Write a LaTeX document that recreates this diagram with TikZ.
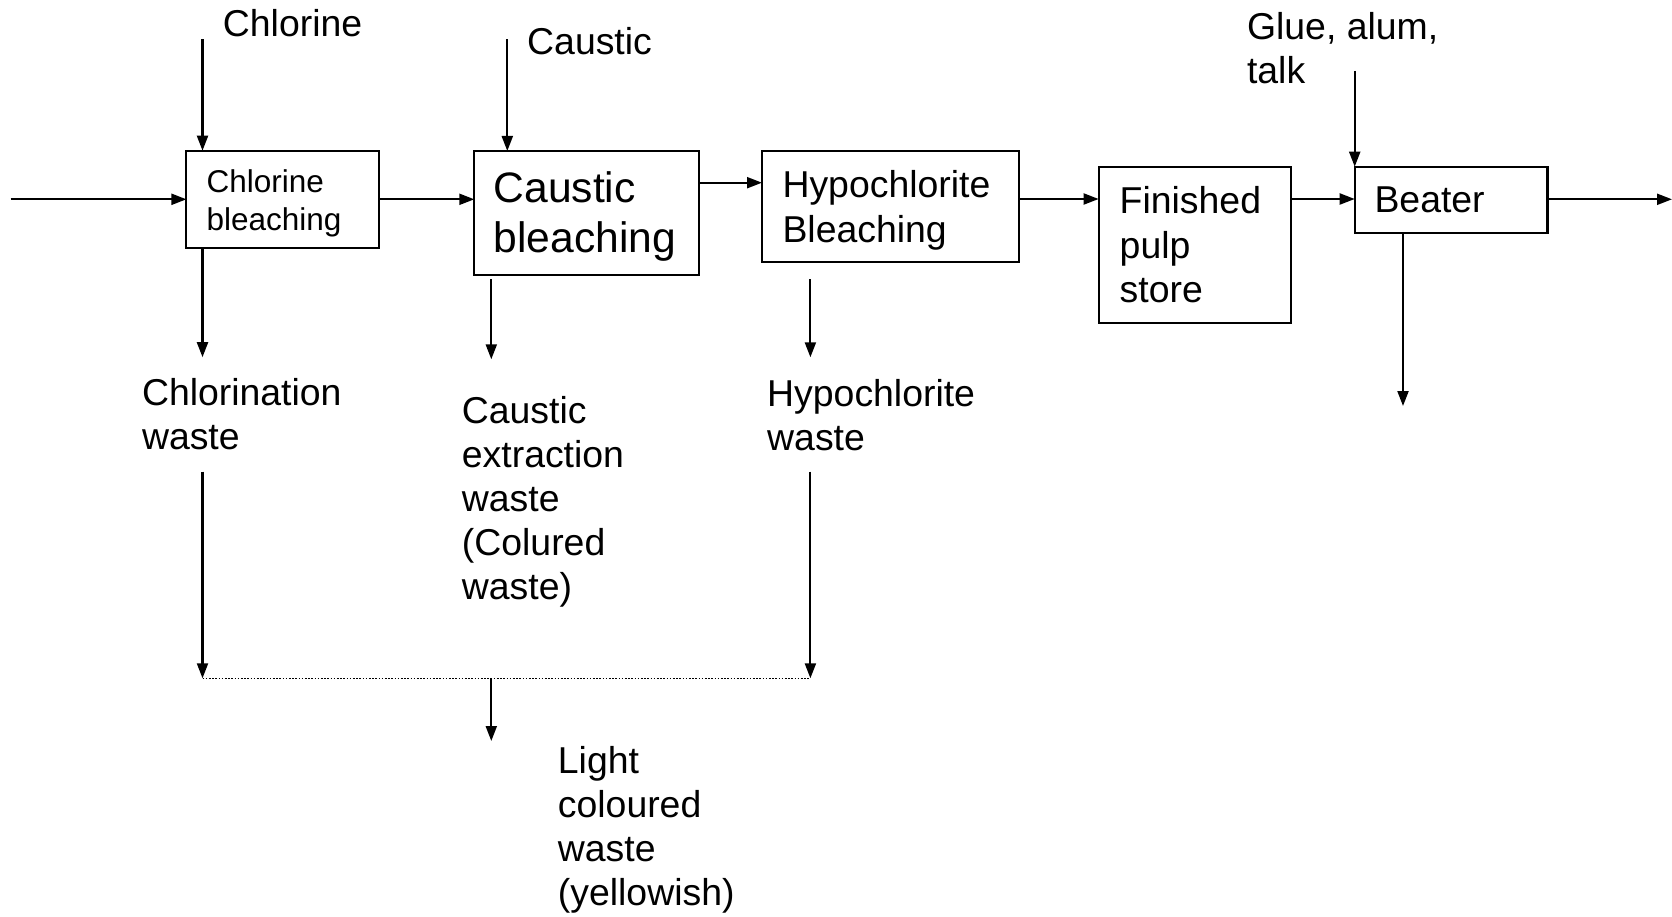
\documentclass[tikz,border=0pt]{standalone}
\usepackage{fontspec}
\setmainfont{Liberation Sans}
\usetikzlibrary{arrows.meta}
\begin{document}
\begin{tikzpicture}[x=1pt,y=-1pt,
  ln/.style={line width=2.1pt},
  arr/.style={ln,-{Triangle[length=15pt,width=11pt]}},
  lbl/.style={anchor=north west,inner sep=0pt,align=left,font=\fontsize{37.4}{44}\selectfont},
  box/.style={draw,line width=2.1pt,anchor=north west,outer sep=0pt,inner ysep=0pt,align=left}
]
\useasboundingbox (0,0) rectangle (1672,917);
% boxes
\node[box,minimum width=192.8pt,minimum height=97.6pt,inner xsep=20.2pt,text width=152.4pt,
  font=\fontsize{31.5}{37.5}\selectfont] (chl) at (186.4,150.7) {\rule{0pt}{31pt}Chlorine\\bleaching};
\node[box,minimum width=224.5pt,minimum height=124.3pt,inner xsep=19.3pt,text width=185.9pt,
  font=\fontsize{42.6}{50}\selectfont] (caus) at (474.3,151) {\rule{0pt}{38pt}Caustic\\bleaching};
\node[box,minimum width=257.3pt,minimum height=111.3pt,inner xsep=20.5pt,text width=216.3pt,
  font=\fontsize{37.4}{44.8}\selectfont] (hypo) at (762,150.7) {\rule{0pt}{35pt}Hypochlorite\\Bleaching};
\node[box,minimum width=192.2pt,minimum height=156pt,inner xsep=21.1pt,text width=150pt,
  font=\fontsize{37.4}{44.3}\selectfont] (fin) at (1098.6,166.7) {Finished\\pulp\\store};
\node[box,minimum width=192.8pt,minimum height=66pt,inner xsep=19.8pt,text width=153.2pt,
  font=\fontsize{37.4}{44.3}\selectfont] (beat) at (1354.7,166.7) {Beater};
% labels
\node[lbl] (chlL) at (222.7,9.5) {Chlorine};
\node[lbl] (causL) at (527,27.7) {Caustic};
\node[lbl] (glueL) at (1246.8,12.7) {Glue, alum,\\talk};
\node[lbl] (chlW) at (141.8,378.4) {Chlorination\\waste};
\node[lbl] (causW) at (461.7,396) {Caustic\\extraction\\waste\\(Colured\\waste)};
\node[lbl] (hypoW) at (767,379) {Hypochlorite\\waste};
\node[lbl] (lightW) at (557.7,746.3) {Light\\coloured\\waste\\(yellowish)};
% coordinates
\coordinate (in0) at (10.7,199.3);
\coordinate (out0) at (1672,199.3);
\coordinate (cf) at (202.5,39.3);
\coordinate (kf) at (507.3,39.3);
\coordinate (gf) at (1354.7,71);
\coordinate (cd) at (202.5,357.2);
\coordinate (ks) at (491.3,279.3);
\coordinate (kd) at (491.3,359.3);
\coordinate (hs) at (810.4,279.3);
\coordinate (hd) at (810.4,357.3);
\coordinate (bd) at (1403,406);
\coordinate (cw1) at (202.5,471.7);
\coordinate (cw2) at (202.5,678.3);
\coordinate (hw1) at (810.4,471.7);
\coordinate (hw2) at (810.4,678.3);
\coordinate (lt) at (491.3,678.3);
\coordinate (ld) at (491.3,741);
% main flow
\draw[arr] (in0) -- (in0 -| chl.west);
\draw[arr] (chl.east |- in0) -- (caus.west |- in0);
\draw[arr] (caus.east |- 0,182.7) -- (hypo.west |- 0,182.7);
\draw[arr] (hypo.east |- 0,199) -- (fin.west |- 0,199);
\draw[arr] (fin.east |- 0,199) -- (beat.west |- 0,199);
\draw[arr] (beat.east |- out0) -- (out0);
% feeds
\draw[arr] (cf) -- (cf |- chl.north);
\draw[arr] (kf) -- (kf |- caus.north);
\draw[arr] (gf) -- (gf |- beat.north);
% wastes
\draw[arr] (cf |- chl.south) -- (cd);
\draw[arr] (ks) -- (kd);
\draw[arr] (hs) -- (hd);
\draw[arr] (bd |- beat.south) -- (bd);
\draw[arr] (cw1) -- (cw2);
\draw[arr] (hw1) -- (hw2);
\draw[line width=1.6pt,dash pattern=on 1.6pt off 1.6pt] (cw2) -- (hw2);
\draw[arr] (lt) -- (ld);
\end{tikzpicture}
\end{document}
